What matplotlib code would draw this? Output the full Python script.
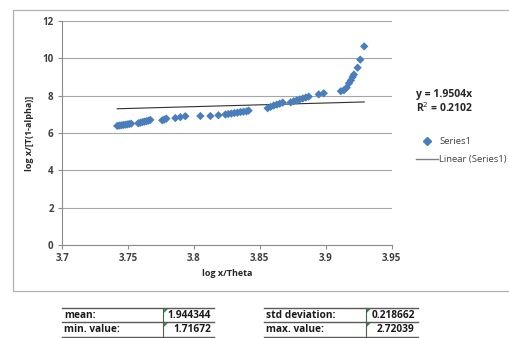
import matplotlib.pyplot as plt
from matplotlib.lines import Line2D
from matplotlib.patches import Rectangle, Polygon
import numpy as np

plt.rcParams['font.family'] = ['Open Sans', 'DejaVu Sans']

# data
log_x_theta = [3.7419, 3.7434, 3.7449, 3.7464, 3.7480, 3.7495, 3.7510, 3.7525,
               3.7579, 3.7594, 3.7610, 3.7625, 3.7640, 3.7655, 3.7670,
               3.7761, 3.7776, 3.7792,
               3.7860, 3.7898, 3.7936,
               3.8050, 3.8126, 3.8187,
               3.8240, 3.8262, 3.8285, 3.8308, 3.8331, 3.8354, 3.8377, 3.8400, 3.8416,
               3.8560, 3.8583, 3.8606, 3.8630, 3.8652, 3.8675,
               3.8735, 3.8758, 3.8781, 3.8804, 3.8827, 3.8850, 3.8872,
               3.8948, 3.8986,
               3.9116, 3.9139, 3.9160, 3.9177, 3.9192, 3.9205, 3.9215, 3.9243, 3.9263, 3.9293]
log_x_T = [6.38, 6.40, 6.41, 6.43, 6.44, 6.46, 6.48, 6.50,
           6.52, 6.55, 6.58, 6.61, 6.63, 6.66, 6.70,
           6.68, 6.72, 6.77,
           6.80, 6.85, 6.90,
           6.91, 6.91, 6.95,
           6.99, 7.02, 7.04, 7.07, 7.09, 7.12, 7.14, 7.16, 7.20,
           7.33, 7.40, 7.47, 7.52, 7.57, 7.63,
           7.64, 7.70, 7.75, 7.80, 7.85, 7.90, 7.95,
           8.07, 8.13,
           8.24, 8.29, 8.43, 8.66, 8.82, 9.00, 9.13, 9.50, 9.93, 10.64]
slope = 1.9504
r_squared = 0.2102

x_ticks = [3.7, 3.75, 3.8, 3.85, 3.9, 3.95]
y_ticks = [0, 2, 4, 6, 8, 10, 12]

stat_labels_left = ['mean:', 'min. value:']
stat_values_left = ['1.944344', '1.71672']
stat_labels_right = ['std deviation:', 'max. value:']
stat_values_right = ['0.218662', '2.72039']

W, H = 510, 338
fig = plt.figure(figsize=(W / 100, H / 100), dpi=100)
fig.patch.set_facecolor('white')

# chart frame
fig.patches.append(Rectangle((13 / W, 1 - 291 / H), 1.0, (291 - 10) / H,
                             transform=fig.transFigure, fill=False,
                             edgecolor='#b0b0b0', linewidth=0.9))

ax = fig.add_axes([62 / W, 1 - 245 / H, (391.5 - 62) / W, (245 - 21) / H])
ax.set_xlim(3.7, 3.95)
ax.set_ylim(0, 12)
ax.set_xticks(x_ticks)
ax.set_xticklabels(['3.7', '3.75', '3.8', '3.85', '3.9', '3.95'])
ax.set_yticks(y_ticks)
ax.grid(axis='y', color='#a6a6a6', linewidth=0.8)
ax.set_axisbelow(True)
for s in ['top', 'right']:
    ax.spines[s].set_visible(False)
for s in ['left', 'bottom']:
    ax.spines[s].set_color('#8c8c8c')
    ax.spines[s].set_linewidth(0.8)
ax.tick_params(direction='out', length=3, width=0.8, color='#8c8c8c',
               labelsize=7, labelcolor='#404040', pad=3)
for lab in ax.get_xticklabels() + ax.get_yticklabels():
    lab.set_fontweight('bold')

ax.scatter(log_x_theta, log_x_T, marker='D', s=18, color='#4a7ebb',
           edgecolors='none', zorder=3)

xs = np.array([min(log_x_theta), max(log_x_theta)])
ax.plot(xs, slope * xs, color='#303030', linewidth=0.8, zorder=2)

ax.set_xlabel('log x/Theta', fontsize=6.5, fontweight='bold', color='#262626', labelpad=3)
ax.set_ylabel('log x/[T(1-alpha)]', fontsize=6.5, fontweight='bold', color='#262626', labelpad=6)

# trendline equation
fig.text(416 / W, 1 - 95 / H, 'y = %.4fx' % slope, fontsize=7.5, fontweight='bold',
         color='#262626', va='center', ha='left')
fig.text(416 / W, 1 - 108 / H, 'R$^{2}$ = %.4f' % r_squared, fontsize=7.5,
         fontweight='bold', color='#262626', va='center', ha='left')

# legend
fig.lines.append(Line2D([427 / W], [1 - 141 / H], marker='D', markersize=3.8,
                        color='#4a7ebb', linestyle='none', transform=fig.transFigure))
fig.text(439 / W, 1 - 141 / H, 'Series1', fontsize=6.8, color='#404040', va='center')
fig.lines.append(Line2D([416 / W, 438 / W], [1 - 159 / H, 1 - 159 / H],
                        color='#808080', linewidth=1.0, transform=fig.transFigure))
fig.text(439 / W, 1 - 159 / H, 'Linear (Series1)', fontsize=6.8, color='#404040',
         va='center')


def draw_table(x0, xdiv, x1, labels, values):
    rows_y = [308.3, 322.3, 336.7]
    for yy in rows_y:
        fig.lines.append(Line2D([x0 / W, x1 / W], [1 - yy / H, 1 - yy / H],
                                color='#595959', linewidth=1.0, transform=fig.transFigure))
    fig.lines.append(Line2D([xdiv / W, xdiv / W], [1 - rows_y[0] / H, 1 - rows_y[-1] / H],
                            color='#595959', linewidth=0.8, transform=fig.transFigure))
    for i, (lab, val) in enumerate(zip(labels, values)):
        yc = (rows_y[i] + rows_y[i + 1]) / 2
        fig.text((x0 + 2) / W, 1 - yc / H, lab, fontsize=7.3, fontweight='bold',
                 color='#1a1a1a', va='center', ha='left')
        fig.text((x1 - 3) / W, 1 - yc / H, val, fontsize=7.3, fontweight='bold',
                 color='#1a1a1a', va='center', ha='right')
        top = rows_y[i] + 0.8
        tri = Polygon([((xdiv + 0.8) / W, 1 - top / H), ((xdiv + 4.5) / W, 1 - top / H),
                       ((xdiv + 0.8) / W, 1 - (top + 3.7) / H)], closed=True,
                      transform=fig.transFigure, facecolor='#1f8f1f', edgecolor='none')
        fig.patches.append(tri)


draw_table(62, 163.3, 214.3, stat_labels_left, stat_values_left)
draw_table(264.3, 366, 417.7, stat_labels_right, stat_values_right)

fig.savefig('out.png', dpi=100, facecolor='white')
